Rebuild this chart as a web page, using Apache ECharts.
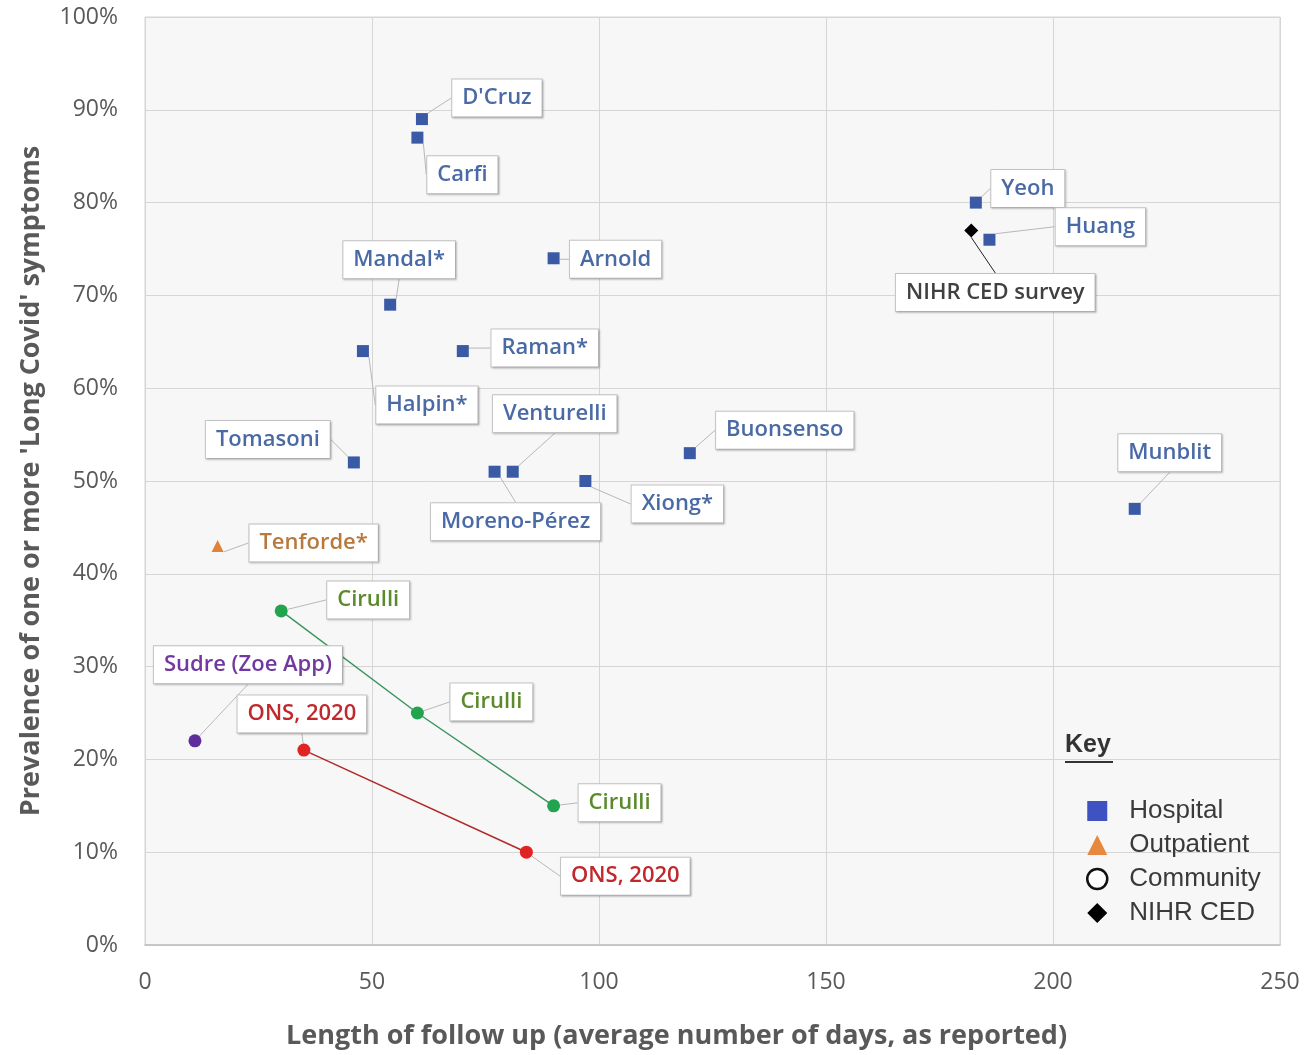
<!DOCTYPE html>
<html>
<head>
<meta charset="utf-8">
<script src="https://cdn.jsdelivr.net/npm/echarts@6/dist/echarts.min.js"></script>
<style>html,body{margin:0;padding:0;background:#fff;}#c{width:1305px;height:1055px;}</style>
</head>
<body>
<div id="c"></div>
<script>
// ---- data ----
const xTicks = [0, 50, 100, 150, 200, 250];
const yTicks = [0, 10, 20, 30, 40, 50, 60, 70, 80, 90, 100];

const hospitalNames = ["D'Cruz", "Carfi", "Mandal*", "Arnold", "Halpin*", "Raman*", "Tomasoni", "Venturelli", "Moreno-Pérez", "Xiong*", "Buonsenso", "Munblit", "Yeoh", "Huang"];
const hospitalDays  = [61, 60, 54, 90, 48, 70, 46, 81, 77, 97, 120, 218, 183, 186];
const hospitalPct   = [89, 87, 69, 74, 64, 64, 52, 51, 51, 50, 53, 47, 80, 76];

const outpatientNames = ["Tenforde*"];
const outpatientDays  = [16];
const outpatientPct   = [43];

const nihrNames = ["NIHR CED survey"];
const nihrDays  = [182];
const nihrPct   = [77];

const cirulliNames = ["Cirulli", "Cirulli", "Cirulli"];
const cirulliDays  = [30, 60, 90];
const cirulliPct   = [36, 25, 15];

const onsNames = ["ONS, 2020", "ONS, 2020"];
const onsDays  = [35, 84];
const onsPct   = [21, 10];

const sudreNames = ["Sudre (Zoe App)"];
const sudreDays  = [11];
const sudrePct   = [22];

// ---- label placement (style, pixels) ----
const hospitalOffsets = [[75,-21],[45,37],[9,-45],[62,1],[64,54],[82,-3],[-86,-23],[42,-58],[21,50],[92,23],[95,-23],[35,-56],[52,-14],[111,-13]];
const outpatientOffsets = [[96,-3]];
const nihrOffsets = [[24,62]];
const cirulliOffsets = [[87,-11],[74,-11],[66,-3]];
const onsOffsets = [[-2,-36],[99,24]];
const sudreOffsets = [[53,-76]];

function pts(xs, ys, ns) { return xs.map((x, i) => [x, ys[i], ns[i]]); }

const FONT = "'Open Sans', sans-serif";
const LFONT = "'Liberation Sans', Arial, sans-serif";
function boxLabel(color) {
  return {
    show: true, position: 'inside',
    formatter: p => p.data[2],
    color: color, fontFamily: FONT, fontWeight: 600, fontSize: 22,
    backgroundColor: '#ffffff', borderColor: '#c6c6c6', borderWidth: 1,
    padding: [8, 10, 7, 10],
    shadowColor: 'rgba(0,0,0,0.18)', shadowBlur: 2, shadowOffsetX: 1, shadowOffsetY: 1
  };
}
function layout(offs) {
  return function (params) { const o = offs[params.dataIndex]; return { dx: o[0], dy: o[1] }; };
}
const guide = (c) => ({ show: true, lineStyle: { color: c || '#b8b8b8', width: 1 } });

const chart = echarts.init(document.getElementById('c'));
chart.setOption({
  animation: false,
  backgroundColor: '#ffffff',
  grid: { left: 145, right: 25, top: 17, bottom: 107, show: true, backgroundColor: '#f7f7f7', borderColor: '#d4d4d4', borderWidth: 1 },
  xAxis: {
    type: 'value', min: xTicks[0], max: xTicks[xTicks.length - 1], interval: 50,
    name: 'Length of follow up (average number of days, as reported)',
    nameLocation: 'middle', nameGap: 78,
    nameTextStyle: { fontFamily: FONT, fontWeight: 700, fontSize: 27, color: '#595959', padding: [0, 72, 0, 0] },
    axisLine: { show: true, lineStyle: { color: '#bfbfbf', width: 1.5 } },
    axisTick: { show: false },
    axisLabel: { margin: 26, fontFamily: FONT, fontSize: 23, color: '#595959' },
    splitLine: { show: true, lineStyle: { color: '#d6d6d6', width: 1 } }
  },
  yAxis: {
    type: 'value', min: yTicks[0], max: yTicks[yTicks.length - 1], interval: 10,
    name: "Prevalence of one or more 'Long Covid' symptoms",
    nameLocation: 'middle', nameGap: 100,
    nameTextStyle: { fontFamily: FONT, fontWeight: 700, fontSize: 27, color: '#595959' },
    axisLine: { show: false },
    axisTick: { show: false },
    axisLabel: { margin: 27, fontFamily: FONT, fontSize: 23, color: '#595959', formatter: '{value}%' },
    splitLine: { show: true, lineStyle: { color: '#d6d6d6', width: 1 } }
  },
  legend: {
    orient: 'vertical', left: 1081, top: 793, itemWidth: 20, itemHeight: 20, itemGap: 8,
    textStyle: { fontFamily: LFONT, fontSize: 26, color: '#3a3a3a', padding: [0, 0, 0, 17] },
    data: [
      { name: 'Hospital', icon: 'rect', itemStyle: { color: '#3f52c2', borderWidth: 0 } },
      { name: 'Outpatient', icon: 'triangle', itemStyle: { color: '#e8873e', borderWidth: 0 } },
      { name: 'Community', icon: 'circle', itemStyle: { color: '#ffffff', borderColor: '#111', borderWidth: 2.5 } },
      { name: 'NIHR CED', icon: 'diamond', itemStyle: { color: '#000000', borderWidth: 0 } }
    ]
  },
  graphic: [
    { type: 'text', left: 1065, top: 733, style: { text: 'Key', font: "bold 25px 'Liberation Sans', Arial, sans-serif", fill: '#333' } },
    { type: 'line', shape: { x1: 1065, y1: 762, x2: 1113, y2: 762 }, style: { stroke: '#333', lineWidth: 2 } }
  ],
  series: [
    {
      name: 'Community', type: 'line', data: pts(cirulliDays, cirulliPct, cirulliNames),
      symbol: 'circle', symbolSize: 13, itemStyle: { color: '#22a34e', opacity: 1 },
      lineStyle: { color: '#3b9560', width: 1.5 },
      label: boxLabel('#5b8a2c'), labelLayout: layout(cirulliOffsets), labelLine: guide(), z: 3
    },
    {
      name: 'Community', type: 'line', data: pts(onsDays, onsPct, onsNames),
      symbol: 'circle', symbolSize: 13, itemStyle: { color: '#e02424', opacity: 1 },
      lineStyle: { color: '#b02a2a', width: 1.5 },
      label: boxLabel('#c0282c'), labelLayout: layout(onsOffsets), labelLine: guide(), z: 3
    },
    {
      name: 'Community', type: 'scatter', data: pts(sudreDays, sudrePct, sudreNames),
      symbol: 'circle', symbolSize: 13, itemStyle: { color: '#5d2e9c', opacity: 1 },
      label: boxLabel('#7238a2'), labelLayout: layout(sudreOffsets), labelLine: guide(), z: 3
    },
    {
      name: 'Hospital', type: 'scatter', data: pts(hospitalDays, hospitalPct, hospitalNames),
      symbol: 'rect', symbolSize: 12, itemStyle: { color: '#3a5aa6', opacity: 1 },
      label: boxLabel('#4a6aa5'), labelLayout: layout(hospitalOffsets), labelLine: guide(), z: 3
    },
    {
      name: 'Outpatient', type: 'scatter', data: pts(outpatientDays, outpatientPct, outpatientNames),
      symbol: 'triangle', symbolSize: 12, itemStyle: { color: '#e0813c', opacity: 1 },
      label: boxLabel('#b7793e'), labelLayout: layout(outpatientOffsets), labelLine: guide(), z: 3
    },
    {
      name: 'NIHR CED', type: 'scatter', data: pts(nihrDays, nihrPct, nihrNames),
      symbol: 'diamond', symbolSize: 14, itemStyle: { color: '#000000', opacity: 1 },
      label: boxLabel('#404040'), labelLayout: layout(nihrOffsets), labelLine: guide('#222'), z: 4
    }
  ]
});
</script>
</body>
</html>
